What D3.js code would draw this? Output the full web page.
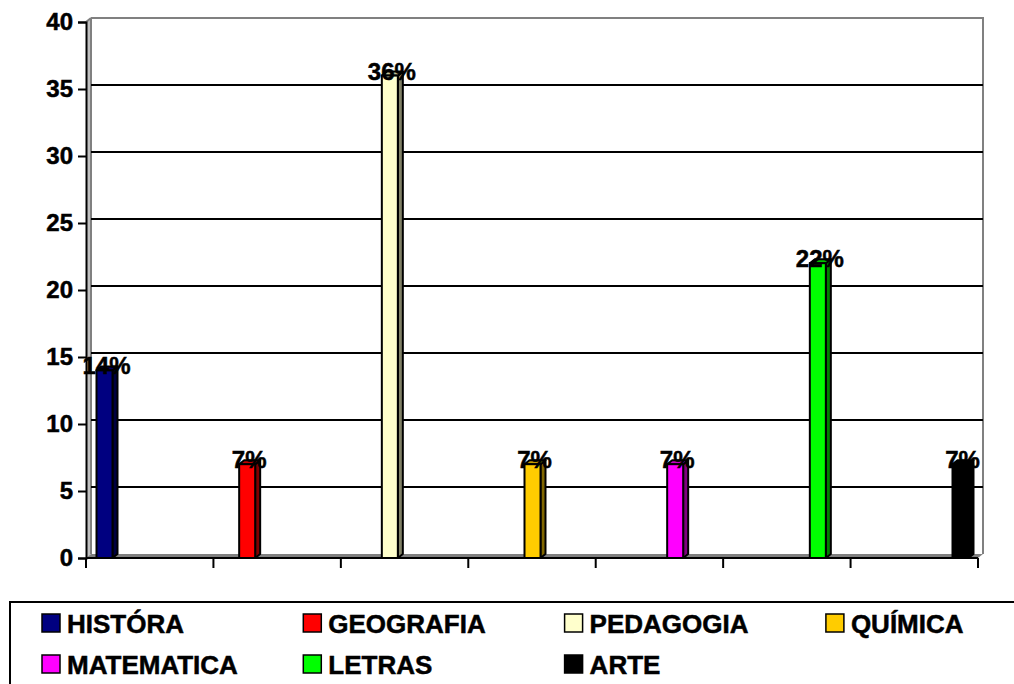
<!DOCTYPE html>
<html>
<head>
<meta charset="utf-8">
<script src="https://cdn.jsdelivr.net/npm/d3@7"></script>
<style>
  body { margin: 0; background: #fff; }
  text { font-family: Arial, "Liberation Sans", sans-serif; font-weight: bold; fill: #000; stroke: #000; stroke-width: 0.5px; }
</style>
</head>
<body>
<script>
// chart data
const categories = ["HISTÓRA", "GEOGRAFIA", "PEDAGOGIA", "QUÍMICA", "MATEMATICA", "LETRAS", "ARTE"];
const values = [14, 7, 36, 7, 7, 22, 7];
const labels = ["14%", "7%", "36%", "7%", "7%", "22%", "7%"];
const colors = ["#000080", "#FF0000", "#FFFFCC", "#FFCC00", "#FF00FF", "#00FF00", "#000000"];
const yTicks = [0, 5, 10, 15, 20, 25, 30, 35, 40];

const width = 1014, height = 684;
const depthX = 5, depthY = 4; // 3d offset of the back wall

const svg = d3.select("body").append("svg")
    .attr("width", width)
    .attr("height", height);

// scales
const y = d3.scaleLinear().domain([0, 40]).range([558, 22]);
const xAxis = d3.scaleBand().domain(categories).range([86, 978]); // tick marks at band edges
const xBar = d3.scalePoint().domain(categories).range([104.5, 960.5]); // bar centers
const barW = 16;

// back wall (left strip, top and right edges)
const left = 86, right = 978;
svg.append("polygon")
    .attr("points", [[left, y(0)], [left, y(40)], [left + depthX, y(40) - depthY], [left + depthX, y(0) - depthY]].join(" "))
    .attr("fill", "#c0c0c0");
svg.append("line")
    .attr("x1", left + depthX).attr("x2", left + depthX)
    .attr("y1", y(40) - depthY).attr("y2", y(0) - depthY)
    .attr("stroke", "#808080").attr("stroke-width", 2);
svg.append("line")
    .attr("x1", left + depthX).attr("x2", right + depthX + 1)
    .attr("y1", y(40) - depthY).attr("y2", y(40) - depthY)
    .attr("stroke", "#808080").attr("stroke-width", 2);
svg.append("line")
    .attr("x1", right + depthX).attr("x2", right + depthX)
    .attr("y1", y(40) - depthY).attr("y2", y(0) - depthY)
    .attr("stroke", "#808080").attr("stroke-width", 2);

// gridlines on the back wall
svg.selectAll("line.grid")
    .data(yTicks.filter(d => d > 0 && d < 40))
    .enter().append("line")
    .attr("class", "grid")
    .attr("x1", left + depthX).attr("x2", right + depthX)
    .attr("y1", d => y(d) - depthY).attr("y2", d => y(d) - depthY)
    .attr("stroke", "#000").attr("stroke-width", 2);
svg.append("line")
    .attr("x1", left).attr("x2", left + depthX)
    .attr("y1", y(40)).attr("y2", y(40) - depthY)
    .attr("stroke", "#808080").attr("stroke-width", 2);

// floor
svg.append("polygon")
    .attr("points", [[left, y(0)], [right, y(0)], [right + depthX, y(0) - depthY], [left + depthX, y(0) - depthY]].join(" "))
    .attr("fill", "#808080");

// y axis
const yAxis = d3.axisLeft(y).tickValues(yTicks).tickSize(8).tickPadding(5);
const gy = svg.append("g").attr("transform", `translate(${left},0)`).call(yAxis);
gy.select(".domain").attr("stroke", "#000").attr("stroke-width", 2);
gy.selectAll(".tick line").attr("stroke", "#000").attr("stroke-width", 2);
gy.selectAll(".tick text")
    .style("font-size", "24px")
    .style("font-family", "Arial, 'Liberation Sans', sans-serif")
    .style("font-weight", "bold")
    .attr("fill", "#000");

// x axis with ticks at the band edges
const xEdges = categories.map(c => xAxis(c)).concat([xAxis.range()[1]]);
svg.append("line")
    .attr("x1", left).attr("x2", right)
    .attr("y1", y(0)).attr("y2", y(0))
    .attr("stroke", "#000").attr("stroke-width", 2);
svg.selectAll("line.xtick")
    .data(xEdges)
    .enter().append("line")
    .attr("class", "xtick")
    .attr("x1", d => d).attr("x2", d => d)
    .attr("y1", y(0)).attr("y2", y(0) + 10)
    .attr("stroke", "#000").attr("stroke-width", 2);

// 3d bars
function shade(c, k) {
    const r = d3.rgb(c);
    return d3.rgb(r.r * k, r.g * k, r.b * k).formatHex();
}
const bars = svg.selectAll("g.bar")
    .data(categories.map((c, i) => ({ cat: c, v: values[i], label: labels[i], color: colors[i] })))
    .enter().append("g").attr("class", "bar");

bars.append("polygon") // side
    .attr("points", d => {
        const x1 = xBar(d.cat) + barW / 2, t = y(d.v), b = y(0);
        return [[x1, b], [x1, t], [x1 + depthX, t - depthY], [x1 + depthX, b - depthY]].join(" ");
    })
    .attr("fill", d => shade(d.color, 0.5))
    .attr("stroke", "#000").attr("stroke-width", 2).attr("stroke-linejoin", "round");
bars.append("polygon") // top
    .attr("points", d => {
        const x0 = xBar(d.cat) - barW / 2, x1 = x0 + barW, t = y(d.v);
        return [[x0, t], [x1, t], [x1 + depthX, t - depthY], [x0 + depthX, t - depthY]].join(" ");
    })
    .attr("fill", d => shade(d.color, 0.75))
    .attr("stroke", "#000").attr("stroke-width", 2).attr("stroke-linejoin", "round");
bars.append("rect") // front
    .attr("x", d => xBar(d.cat) - barW / 2)
    .attr("y", d => y(d.v))
    .attr("width", barW)
    .attr("height", d => y(0) - y(d.v))
    .attr("fill", d => d.color)
    .attr("stroke", "#000").attr("stroke-width", 2);

// data labels
bars.append("text")
    .attr("x", d => xBar(d.cat) + 2)
    .attr("y", d => y(d.v) + 4)
    .attr("text-anchor", "middle")
    .style("font-size", "24px")
    .text(d => d.label);

// legend
const legend = svg.append("g");
legend.append("rect")
    .attr("x", 10).attr("y", 602)
    .attr("width", 1100).attr("height", 200)
    .attr("fill", "none").attr("stroke", "#000").attr("stroke-width", 2);
const items = legend.selectAll("g.item")
    .data(categories.map((c, i) => ({ cat: c, color: colors[i], col: i % 4, row: Math.floor(i / 4) })))
    .enter().append("g").attr("class", "item")
    .attr("transform", d => `translate(${42 + d.col * 261.3},${614 + d.row * 41})`);
items.append("rect")
    .attr("width", 18).attr("height", 18)
    .attr("fill", d => d.color)
    .attr("stroke", "#000").attr("stroke-width", 1.5);
items.append("text")
    .attr("x", 25).attr("y", 19)
    .style("font-size", "26px")
    .text(d => d.cat);
</script>
</body>
</html>
